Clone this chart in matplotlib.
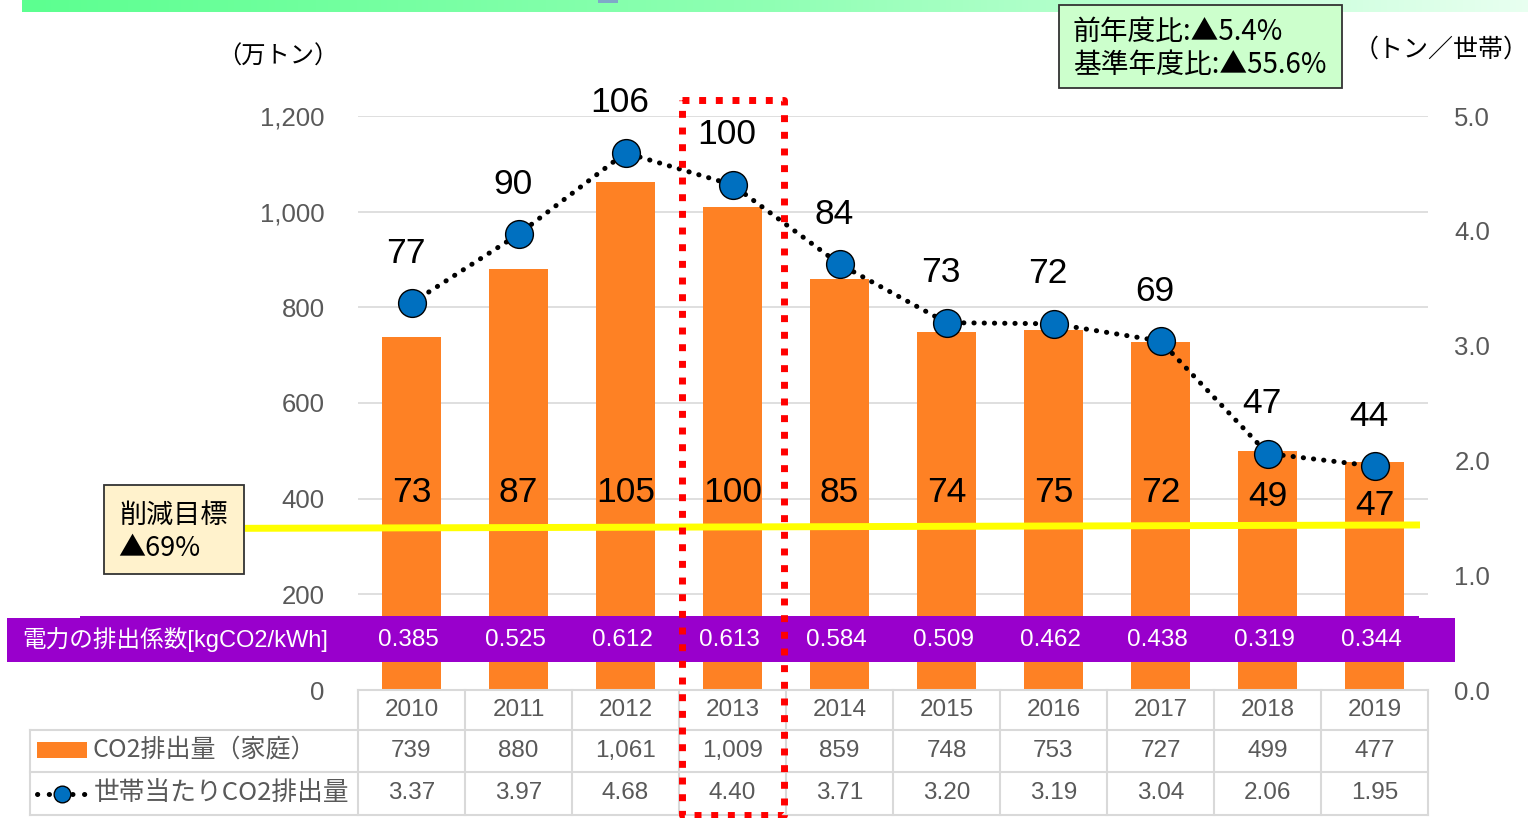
import matplotlib
matplotlib.use("Agg")
import matplotlib.pyplot as plt
import numpy as np
from matplotlib.patches import Rectangle
from matplotlib.lines import Line2D
from matplotlib.transforms import blended_transform_factory
from matplotlib.colors import LinearSegmentedColormap

# ---------------- data ----------------
years = ["2010", "2011", "2012", "2013", "2014", "2015", "2016", "2017", "2018", "2019"]
co2_household_total = [739, 880, 1061, 1009, 859, 748, 753, 727, 499, 477]  # 万トン
co2_per_household = [3.37, 3.97, 4.68, 4.40, 3.71, 3.20, 3.19, 3.04, 2.06, 1.95]  # トン/世帯
bar_index_labels = [73, 87, 105, 100, 85, 74, 75, 72, 49, 47]
line_index_labels = [77, 90, 106, 100, 84, 73, 72, 69, 47, 44]
emission_factors = ["0.385", "0.525", "0.612", "0.613", "0.584", "0.509", "0.462", "0.438", "0.319", "0.344"]
total_labels = ["739", "880", "1,061", "1,009", "859", "748", "753", "727", "499", "477"]
per_household_labels = ["3.37", "3.97", "4.68", "4.40", "3.71", "3.20", "3.19", "3.04", "2.06", "1.95"]
left_ticks = [0, 200, 400, 600, 800, 1000, 1200]
right_ticks = [0.0, 1.0, 2.0, 3.0, 4.0, 5.0]
target_level = [338, 345]  # 削減目標 line (left-axis units), left end / right end
highlight_year = "2013"

# ---------------- styling ----------------
W, H = 1528, 818
JP = ["Noto Sans CJK JP", "DejaVu Sans"]
NUM = ["Liberation Sans", "Noto Sans CJK JP", "DejaVu Sans"]
plt.rcParams["font.family"] = NUM
GRAY = "#595959"
ORANGE = "#FE8124"
BLUE = "#0070C0"
PURPLE = "#9900CC"
GRID = "#D9D9D9"


def fx(x):
    return x / W


def fy(y):
    return 1 - y / H


fig = plt.figure(figsize=(W / 100, H / 100), dpi=100)
fig.patch.set_facecolor("white")

# top gradient strip
gax = fig.add_axes([fx(22), fy(12), fx(W) - fx(22), fy(0) - fy(12)])
grad = np.linspace(0, 1, 256).reshape(1, -1)
cmap = LinearSegmentedColormap.from_list("g", ["#5CFF90", "#90FFB4", "#E8FFF0"])
gax.imshow(grad, aspect="auto", cmap=cmap, extent=[0, 1, 0, 1])
gax.set_axis_off()
fig.patches.append(Rectangle((fx(598), fy(3)), fx(20), fy(0) - fy(3), transform=fig.transFigure,
                             facecolor="#7FA8C8", edgecolor="none", zorder=5))

# main axes
ax = fig.add_axes([fx(358), fy(690), fx(1428) - fx(358), fy(116) - fy(690)])
ax.set_xlim(-0.5, len(years) - 0.5)
ax.set_ylim(0, 1200)
ax2 = ax.twinx()
ax2.set_ylim(0, 5.0)
ax.set_zorder(1)
ax2.set_zorder(2)
ax.patch.set_visible(False)
ax2.patch.set_visible(False)

x = np.arange(len(years))


def px_to_xdata(px):
    return ax.transData.inverted().transform(fig.transFigure.transform((fx(px), 0)))[0]


for a in (ax, ax2):
    for s in a.spines.values():
        s.set_visible(False)
    a.tick_params(length=0)
ax.set_xticks([])
ax.set_yticks(left_ticks)
ax.set_yticklabels([f"{v:,}" for v in left_ticks], color=GRAY, fontsize=18.5)
ax.tick_params(axis="y", pad=24)
ax2.set_yticks(right_ticks)
ax2.set_yticklabels([f"{v:.1f}" for v in right_ticks], color=GRAY, fontsize=18.5)
ax2.tick_params(axis="y", pad=19)
for t in left_ticks[1:]:
    ax.axhline(t, color=GRID, lw=1.2, zorder=0)

# bars
ax.bar(x, co2_household_total, width=0.56, color=ORANGE, zorder=2)
for xi, v, lab in zip(x, co2_household_total, bar_index_labels):
    ax.text(xi, min(412, v * 0.81), str(lab), ha="center", va="center", fontsize=25.5, color="black", zorder=6)

# target line
ax.plot([px_to_xdata(245), px_to_xdata(1420)], target_level, color="#FFFF00", lw=5, zorder=5,
        clip_on=False, solid_capstyle="butt")

# purple emission-factor band
band_tr = fig.transFigure
fig.patches.append(Rectangle((fx(7), fy(662)), fx(1455) - fx(7), fy(618) - fy(662), transform=band_tr,
                             facecolor=PURPLE, edgecolor="none", zorder=3))
fig.patches.append(Rectangle((fx(80), fy(662)), fx(1419) - fx(80), fy(616) - fy(662), transform=band_tr,
                             facecolor=PURPLE, edgecolor="none", zorder=3))
fig.text(fx(22), fy(640), "電力の排出係数[kgCO2/kWh]", color="white", fontsize=17, va="center", ha="left",
         family=NUM, zorder=10)
bt = blended_transform_factory(ax.transData, fig.transFigure)
for xi, ef in zip(x, emission_factors):
    fig.text(xi - 0.03, fy(640), ef, transform=bt, color="white", fontsize=17.5, ha="center", va="center",
             zorder=10)

# line on secondary axis
ax2.plot(x, co2_per_household, color="black", lw=3.6, linestyle=(0, (0.05, 2.0)),
         dash_capstyle="round", zorder=3)
ax2.plot(x, co2_per_household, linestyle="none", marker="o", markersize=20, markerfacecolor=BLUE,
         markeredgecolor="black", markeredgewidth=1.0, zorder=4)
for xi, v, lab in zip(x, co2_per_household, line_index_labels):
    ax2.annotate(str(lab), (xi, v), xytext=(-4, 36), textcoords="offset points", ha="center", va="center",
                 fontsize=25.5, color="black", zorder=6)

# axis unit labels
fig.text(fx(278), fy(57), "（万トン）", fontsize=17.5, ha="center", va="center", family=JP)
fig.text(fx(1441), fy(50), "（トン／世帯）", fontsize=18, ha="center", va="center", family=JP)

# 削減目標 box
fig.patches.append(Rectangle((fx(104), fy(574)), fx(244) - fx(104), fy(485) - fy(574), transform=fig.transFigure,
                             facecolor="#FFF2CC", edgecolor="#333333", lw=1.3, zorder=8))
fig.text(fx(119), fy(515), "削減目標", fontsize=19.5, ha="left", va="center", family=JP, zorder=9)
fig.text(fx(118), fy(548), "▲69%", fontsize=19.5, ha="left", va="center", family=JP, zorder=9)

# top-right summary box
fig.patches.append(Rectangle((fx(1059), fy(88)), fx(1342) - fx(1059), fy(5) - fy(88), transform=fig.transFigure,
                             facecolor="#CCFFCC", edgecolor="#333333", lw=1.3, zorder=8))
fig.text(fx(1073), fy(32), "前年度比:▲5.4%", fontsize=20, ha="left", va="center", family=JP, zorder=9)
fig.text(fx(1073), fy(65), "基準年度比:▲55.6%", fontsize=20, ha="left", va="center", family=JP, zorder=9)

# data table
tb = blended_transform_factory(ax.transData, fig.transFigure)
tbl_kw = dict(color=GRID, lw=1.5, zorder=7)
n = len(years)
x_left = -0.5
x_right = n - 0.5
fig.add_artist(Line2D([x_left, x_right], [fy(690), fy(690)], transform=tb, **tbl_kw))
label_left = px_to_xdata(30)
for yy in (730, 772, 815):
    fig.add_artist(Line2D([label_left, x_right], [fy(yy), fy(yy)], transform=tb, **tbl_kw))
for k in range(n + 1):
    fig.add_artist(Line2D([k - 0.5, k - 0.5], [fy(690), fy(815)], transform=tb, **tbl_kw))
fig.add_artist(Line2D([label_left, label_left], [fy(730), fy(815)], transform=tb, **tbl_kw))
for xi, yr, t1, t2 in zip(x, years, total_labels, per_household_labels):
    fig.text(xi, fy(710), yr, transform=tb, ha="center", va="center", fontsize=17.5, color=GRAY)
    fig.text(xi, fy(751), t1, transform=tb, ha="center", va="center", fontsize=17.5, color=GRAY)
    fig.text(xi, fy(793), t2, transform=tb, ha="center", va="center", fontsize=17.5, color=GRAY)

# legend entries in table
fig.patches.append(Rectangle((fx(37), fy(758)), fx(87) - fx(37), fy(742) - fy(758), transform=fig.transFigure,
                             facecolor=ORANGE, edgecolor="none"))
fig.text(fx(92), fy(750), "CO2排出量（家庭）", fontsize=18, ha="left", va="center", color=GRAY, family=JP)
fig.add_artist(Line2D([fx(37), fx(87)], [fy(794), fy(794)], transform=fig.transFigure, color="black", lw=3.6,
                      linestyle=(0, (0.05, 2.3)), dash_capstyle="round"))
fig.add_artist(Line2D([fx(62)], [fy(794)], transform=fig.transFigure, marker="o", markersize=12,
                      markerfacecolor=BLUE, markeredgecolor="black", markeredgewidth=1.0, linestyle="none"))
fig.text(fx(94), fy(793), "世帯当たりCO2排出量", fontsize=18.5, ha="left", va="center", color=GRAY, family=JP)

# red dotted highlight around 2013
hi = years.index(highlight_year)
rb = blended_transform_factory(ax.transData, fig.transFigure)
x0 = px_to_xdata(682)
x1 = px_to_xdata(784)
fig.add_artist(Line2D([x0, x1, x1, x0, x0], [fy(100), fy(100), fy(815), fy(815), fy(100)], transform=rb,
                      color="#FF0000", lw=5, linestyle=(0, (1.0, 1.4)), dash_capstyle="butt", zorder=20))

fig.savefig("out.png", dpi=100)
